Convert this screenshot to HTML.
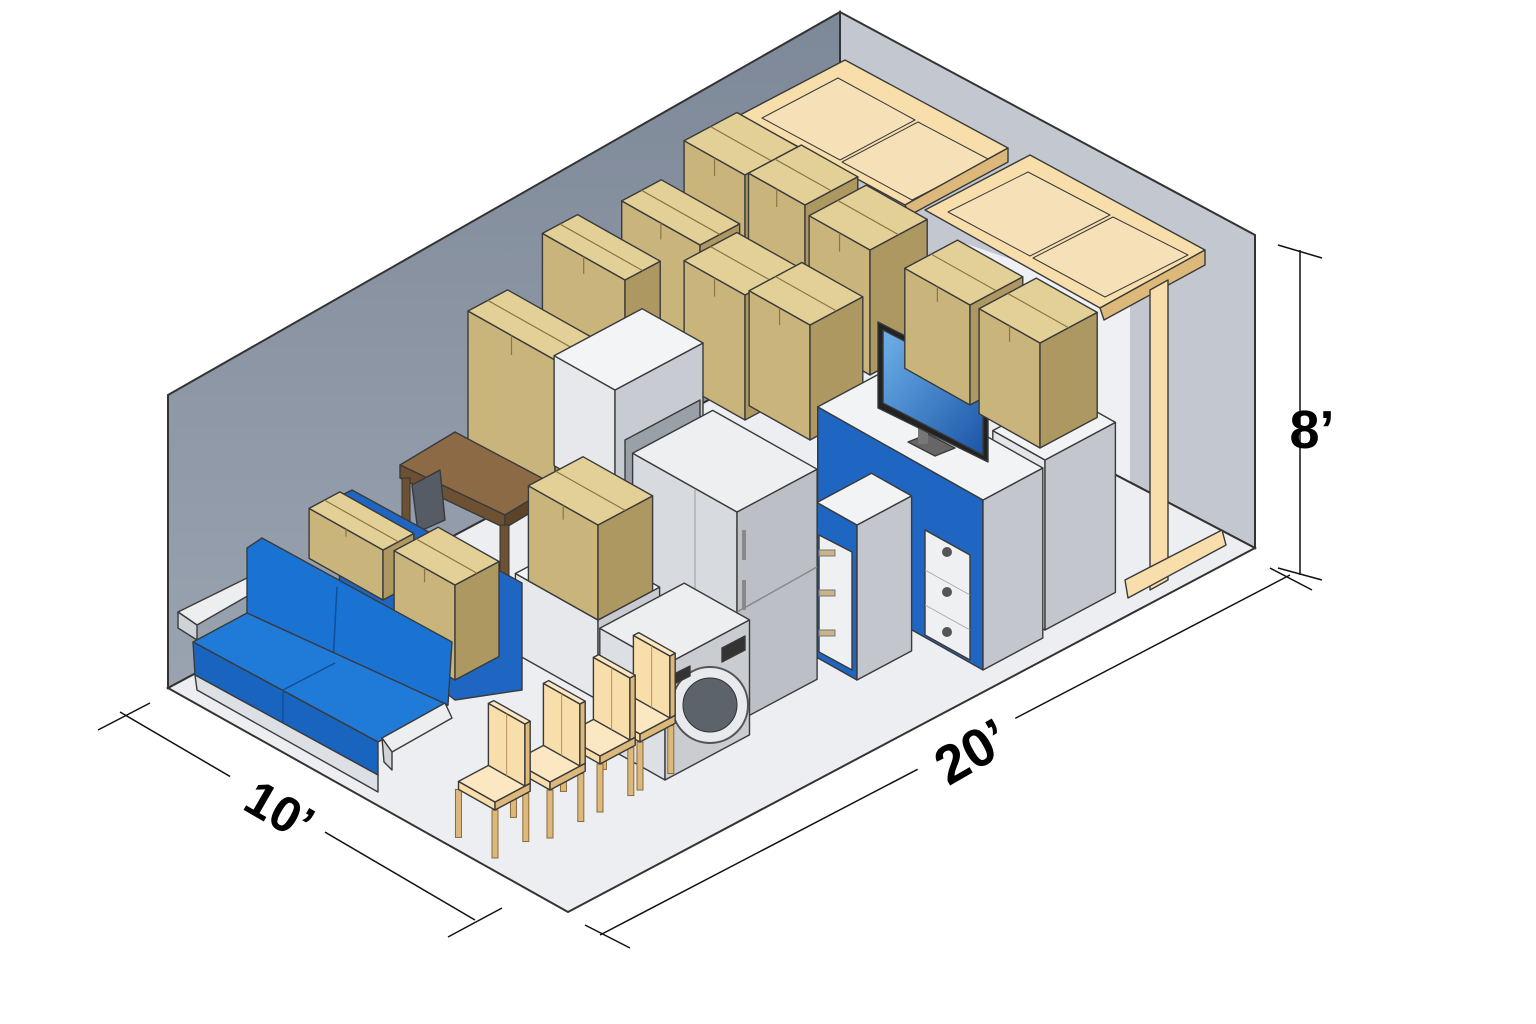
<!DOCTYPE html>
<html><head><meta charset="utf-8"><style>
html,body{margin:0;padding:0;background:#fff;width:1536px;height:1024px;overflow:hidden}
svg{display:block}
text{font-family:"Liberation Sans",sans-serif;font-weight:bold;fill:#000}
</style></head><body>
<svg id="s" width="1536" height="1024" viewBox="0 0 1536 1024" xmlns="http://www.w3.org/2000/svg">
<defs>
<linearGradient id="lw" x1="0" y1="0" x2="0" y2="1"><stop offset="0" stop-color="#7d8898"/><stop offset="1" stop-color="#9aa3b0"/></linearGradient>
<linearGradient id="tv" x1="0" y1="0" x2="1" y2="1"><stop offset="0" stop-color="#6fb0e8"/><stop offset="1" stop-color="#1a55a8"/></linearGradient>
</defs>
<polygon points="168,395 840,12 840,330 168,688" fill="url(#lw)" stroke="#333" stroke-width="2"/>
<polygon points="840,12 1255,235 1255,548 840,330" fill="#c3c8d0" stroke="#333" stroke-width="2"/>
<polygon points="955,240 1130,300 1130,560 955,470" fill="#eef0f3"/>
<polygon points="168,688 840,330 1255,548 568,912" fill="#eceef1" stroke="#333" stroke-width="2"/>
<g id="g"></g>
<g stroke="#111" stroke-width="1.5">
<line x1="120" y1="712" x2="475" y2="920"/><line x1="98" y1="730" x2="150" y2="703"/><line x1="448" y1="937" x2="502" y2="908"/>
<line x1="600" y1="935" x2="1290" y2="575"/><line x1="585" y1="925" x2="630" y2="948"/><line x1="1270" y1="568" x2="1312" y2="590"/>
<line x1="1300" y1="250" x2="1300" y2="575"/><line x1="1278" y1="245" x2="1322" y2="258"/><line x1="1278" y1="568" x2="1322" y2="580"/>
</g>
<rect x="225" y="770" width="110" height="60" fill="#fff" transform="rotate(30 280 800)"/>
<text x="280" y="828" font-size="50" text-anchor="middle" transform="rotate(30 280 810)">10’</text>
<rect x="915" y="720" width="110" height="60" fill="#fff" transform="rotate(-30 970 750)"/>
<text x="972" y="770" font-size="54" text-anchor="middle" transform="rotate(-30 972 752)">20’</text>
<text x="1312" y="448" font-size="54" text-anchor="middle">8’</text>
</svg>
<script>
var g=document.getElementById('g'),NS='http://www.w3.org/2000/svg';
var R=[0.88,-0.47],L=[-0.87,-0.49];
function poly(pts,f,sw){var p=document.createElementNS(NS,'polygon');p.setAttribute('points',pts.map(function(a){return a[0].toFixed(1)+','+a[1].toFixed(1)}).join(' '));p.setAttribute('fill',f);p.setAttribute('stroke','#3a3a3a');p.setAttribute('stroke-width',sw||1.4);p.setAttribute('stroke-linejoin','round');g.appendChild(p);return p;}
function el(t,a){var e=document.createElementNS(NS,t);for(var k in a)e.setAttribute(k,a[k]);g.appendChild(e);return e;}
function add(p,v,s){return [p[0]+v[0]*s,p[1]+v[1]*s];}
function cube(x,y,w,d,h,cl,cr,ct){var P=[x,y],Pw=add(P,R,w),Pd=add(P,L,d),U=[x,y-h],Uw=[Pw[0],Pw[1]-h],Ud=[Pd[0],Pd[1]-h],Uwd=add(Uw,L,d);
poly([P,Pd,Ud,U],cl);poly([P,Pw,Uw,U],cr);poly([U,Uw,Uwd,Ud],ct);return {P:P,U:U,Pw:Pw,Pd:Pd,Ud:Ud,Uw:Uw};}
var TL='#c9b47b',TR='#ae9862',TT='#e3d097';
function box(x,y,w,d,h){var c=cube(x,y,w,d,h,TL,TR,TT);var m1=add(c.U,R,w/2),m2=add(m1,L,d);el('line',{x1:m1[0],y1:m1[1],x2:m2[0],y2:m2[1],stroke:'#8a7648','stroke-width':1.2});
var a=add(c.U,L,d/2);el('line',{x1:a[0],y1:a[1],x2:a[0],y2:a[1]+h*0.15,stroke:'#8a7648','stroke-width':1.2});}
var W='#f7deaa',WD='#dcb97a',WT='#fbe8c2';
// shelves
poly([[740,115],[845,60],[1008,148],[905,205]],W);
poly([[762,118],[838,78],[915,120],[840,160]],'#f6e0b8','1');poly([[842,162],[918,122],[990,160],[912,200]],'#f6e0b8','1');
poly([[905,205],[1008,148],[1008,162],[910,215]],WD);
poly([[925,210],[1030,155],[1205,250],[1100,308]],W);
poly([[948,212],[1028,172],[1110,215],[1030,256]],'#f6e0b8','1');poly([[1033,258],[1113,217],[1188,255],[1105,297]],'#f6e0b8','1');
poly([[1100,308],[1205,250],[1205,265],[1104,320]],WD);
poly([[1150,290],[1168,280],[1168,580],[1150,590]],W);
poly([[1125,580],[1222,530],[1226,545],[1128,598]],W);
// back boxes
box(745,295,60,70,120);box(805,325,60,65,120);box(700,355,45,90,110);box(870,375,65,70,125);
box(745,420,60,70,125);box(625,395,40,95,115);box(810,440,60,70,115);box(555,490,45,100,130);
// white cabinet
cube(615,500,100,70,110,'#e6e8eb','#c8ccd2','#f3f4f6');
poly([[625,440],[700,400],[700,470],[625,500]],'#9aa0a8');
// desk
poly([[400,465],[455,432],[555,485],[505,515]],'#8b6a45');
poly([[400,465],[505,515],[505,528],[400,478]],'#6e5133');
poly([[505,515],[555,485],[555,498],[505,528]],'#5d4428');
el('rect',{x:402,y:478,width:8,height:70,fill:'#6e5133',stroke:'#333'});el('rect',{x:500,y:525,width:9,height:65,fill:'#6e5133',stroke:'#333'});
poly([[412,485],[440,470],[445,520],[418,532]],'#555c66');
// dresser3 and 2
cube(1045,630,80,60,170,'#e4e6ea','#c3c7cd','#f2f3f5');
cube(983,670,68,190,170,'#1f66c2','#c3c7cd','#f2f3f5');
poly([[925,530],[970,555],[970,660],[925,635]],'#eef0f2');
[[947,552],[947,592],[947,632]].forEach(function(p){el('circle',{cx:p[0],cy:p[1],r:5,fill:'#555'});});
el('line',{x1:925,y1:570,x2:970,y2:595,stroke:'#aaa'});el('line',{x1:925,y1:605,x2:970,y2:630,stroke:'#aaa'});
// TV
poly([[908,442],[935,456],[955,448],[928,434]],'#666');
el('rect',{x:918,y:418,width:10,height:26,fill:'#777'});
poly([[878,322],[988,378],[988,462],[878,408]],'#222');
poly([[883,330],[983,382],[983,455],[883,403]],'url(#tv)');
box(970,405,60,75,100);
box(1040,448,65,70,105);
// dresser1
cube(857,680,62,46,155,'#1f66c2','#c3c7cd','#f2f3f5');
poly([[819,535],[852,552],[852,670],[819,652]],'#eef0f2');
[550,590,630].forEach(function(y){el('rect',{x:819,y:y,width:16,height:6,fill:'#c8b48a',stroke:'#777'});});
// fridge
cube(737,722,91,120,210,'#d7dade','#bcc0c6','#eeeff1');
el('line',{x1:737,y1:612,x2:817,y2:567,stroke:'#888','stroke-width':1.5});
el('line',{x1:695,y1:490,x2:695,y2:690,stroke:'#999'});
el('rect',{x:742,y:530,width:4,height:30,fill:'#888'});el('rect',{x:742,y:580,width:4,height:30,fill:'#888'});
// low cabinet + box
cube(598,700,70,95,80,'#e6e8eb','#c8ccd2','#f3f4f6');
box(598,620,62,80,95);
// sofa (back couch)
poly([[338,497],[352,490],[522,583],[522,690],[455,700],[340,610]],'#1f66c2');
box(383,600,35,85,50);
box(455,680,50,70,95);
// arms
poly([[178,612],[247,578],[258,590],[197,625]],'#eceef0');poly([[178,612],[197,625],[197,640],[178,628]],'#cfd2d6');
// backrest
poly([[247,548],[262,538],[452,642],[448,705],[247,620]],'#1a72d2');
el('line',{x1:337,y1:587,x2:333,y2:663,stroke:'#0f4f9a','stroke-width':1.5});
// seat
poly([[193,642],[247,613],[448,705],[378,742]],'#1f7ad8');
poly([[193,642],[378,742],[378,775],[195,675]],'#1864be');
el('line',{x1:283,y1:690,x2:335,y2:663,stroke:'#0f4f9a','stroke-width':1.5});
el('line',{x1:283,y1:690,x2:283,y2:722,stroke:'#0f4f9a','stroke-width':1.5});
poly([[195,675],[378,775],[378,792],[197,690]],'#dcdfe3');
poly([[382,738],[445,703],[452,718],[392,752]],'#eceef0');poly([[382,738],[392,752],[392,770],[384,762]],'#cfd2d6');
// washer
cube(665,780,96,75,115,'#dcdfe3','#c9ccd1','#eceef0');
el('circle',{cx:710,cy:705,r:38,fill:'#e8eaed',stroke:'#555','stroke-width':2});
el('circle',{cx:710,cy:705,r:27,fill:'#5d636b',stroke:'#333'});
poly([[670,676],[690,666],[690,676],[670,686]],'#333');poly([[722,648],[745,636],[745,650],[722,662]],'#333');
// chairs
function chair(x,y){var s=48,wd=40,dd=42;
[[x,y],add([x,y],L,dd),add([x,y],R,wd-5)].forEach(function(p){el('rect',{x:p[0]-3,y:p[1]-s,width:6,height:s,fill:WD,stroke:'#8a6a3a'});});
cube(x,y-s,wd,dd,8,W,WD,WT);
var b=add([x,y-s-8],R,wd-6);cube(b[0],b[1],6,dd,62,W,WD,WT);
var m=add(b,L,dd/2);el('line',{x1:m[0],y1:m[1],x2:m[0],y2:m[1]-62,stroke:'#b8935a'});}
chair(640,790);chair(600,812);chair(550,838);chair(495,858);
</script>
</body></html>
